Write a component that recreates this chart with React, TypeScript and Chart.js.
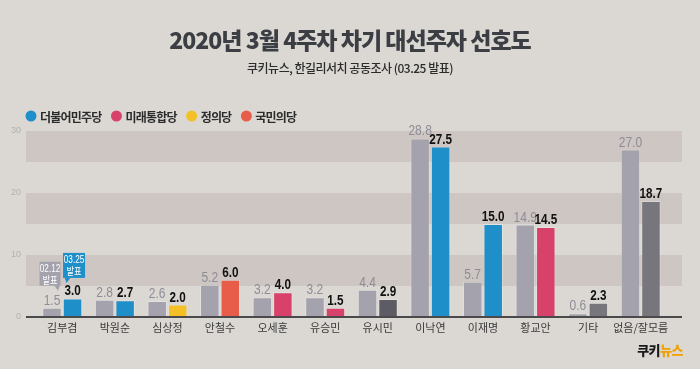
import React, { useEffect, useRef } from 'react';
import { Chart, registerables } from 'chart.js';
Chart.register(...registerables);

const categories = ['김부겸', '박원순', '심상정', '안철수', '오세훈', '유승민', '유시민', '이낙연', '이재명', '황교안', '기타', '없음/잘모름'];
const prevValues = [1.5, 2.8, 2.6, 5.2, 3.2, 3.2, 4.4, 28.8, 5.7, 14.9, 0.6, 27.0];
const currValues = [3.0, 2.7, 2.0, 6.0, 4.0, 1.5, 2.9, 27.5, 15.0, 14.5, 2.3, 18.7];
const yTicks = [0, 10, 20, 30];
const bandRanges = [[5, 10], [15, 20], [25, 30]];
const legendLabels = ['더불어민주당', '미래통합당', '정의당', '국민의당'];
const titleText = '2020년 3월 4주차 차기 대선주자 선호도';
const subtitleText = '쿠키뉴스, 한길리서치 공동조사 (03.25 발표)';
const prevCallout = ['02.12', '발표'];
const currCallout = ['03.25', '발표'];

const BLUE = '#1f8fca';
const PINK = '#d8426a';
const YELLOW = '#f4c026';
const ORANGE = '#e85d4a';
const DARK = '#5d5c64';
const MID = '#77767d';
const GREY = '#a4a2ad';
const BG = '#dbd8d4';
const BAND = '#cdc6c3';
const legendColors = [BLUE, PINK, YELLOW, ORANGE];
const currColors = [BLUE, BLUE, YELLOW, ORANGE, PINK, PINK, DARK, BLUE, BLUE, PINK, MID, MID];

const KR = '"Noto Sans CJK KR", sans-serif';
const LAT = '"Liberation Sans", "Noto Sans CJK KR", sans-serif';

function narrowText(ctx: CanvasRenderingContext2D, text: string, x: number, y: number, sx: number) {
  ctx.save();
  ctx.translate(x, y);
  ctx.scale(sx, 1);
  ctx.fillText(text, 0, 0);
  ctx.restore();
}

const decor = {
  id: 'decor',
  beforeDraw(chart: any) {
    const { ctx, chartArea, scales } = chart;
    const y = scales.y;
    ctx.save();
    ctx.fillStyle = BG;
    ctx.fillRect(0, 0, chart.width, chart.height);
    const L = chartArea.left - 10;
    const R = chartArea.right + 15;
    ctx.fillStyle = BAND;
    for (const [a, b] of bandRanges) {
      const y1 = y.getPixelForValue(b);
      const y2 = y.getPixelForValue(a);
      ctx.fillRect(L, y1, R - L, y2 - y1);
    }
    // title
    ctx.textAlign = 'center';
    ctx.textBaseline = 'alphabetic';
    ctx.fillStyle = '#3b3e43';
    ctx.font = `900 23px ${KR}`;
    (ctx as any).letterSpacing = '-1px';
    ctx.fillText(titleText, chart.width / 2, 49);
    ctx.fillStyle = '#2b2b2b';
    ctx.font = `500 12px ${KR}`;
    (ctx as any).letterSpacing = '-0.5px';
    ctx.fillText(subtitleText, chart.width / 2, 73);
    // legend
    ctx.textAlign = 'left';
    ctx.textBaseline = 'middle';
    ctx.font = `700 12px ${KR}`;
    (ctx as any).letterSpacing = '-0.8px';
    let x = 31;
    const ly = 116;
    legendLabels.forEach((lab, i) => {
      ctx.fillStyle = legendColors[i];
      ctx.beginPath();
      ctx.arc(x, ly, 5.5, 0, Math.PI * 2);
      ctx.fill();
      ctx.fillStyle = '#2b2b2b';
      ctx.fillText(lab, x + 9, ly + 1);
      x += 9 + ctx.measureText(lab).width + 15;
    });
    // logo
    ctx.textAlign = 'left';
    ctx.textBaseline = 'alphabetic';
    ctx.font = `900 13px ${KR}`;
    (ctx as any).letterSpacing = '-0.5px';
    const w1 = ctx.measureText('쿠키').width;
    const w2 = ctx.measureText('뉴스').width;
    const lx = 683 - w1 - w2;
    ctx.fillStyle = '#1a1a1a';
    ctx.fillText('쿠키', lx, 355);
    ctx.fillStyle = '#f0a000';
    ctx.fillText('뉴스', lx + w1, 355);
    ctx.restore();
  },
  afterDatasetsDraw(chart: any) {
    const { ctx, chartArea, scales } = chart;
    const y0 = scales.y.getPixelForValue(0);
    ctx.save();
    ctx.strokeStyle = '#4a4a4a';
    ctx.lineWidth = 2;
    ctx.beginPath();
    ctx.moveTo(chartArea.left - 10, y0);
    ctx.lineTo(chartArea.right + 15, y0);
    ctx.stroke();

    const m0 = chart.getDatasetMeta(0);
    const m1 = chart.getDatasetMeta(1);
    ctx.textAlign = 'center';
    ctx.textBaseline = 'alphabetic';
    ctx.font = `400 15px ${LAT}`;
    ctx.fillStyle = '#8e8c96';
    m0.data.forEach((bar: any, i: number) => {
      narrowText(ctx, prevValues[i].toFixed(1), bar.x, bar.y - 3, 0.8);
    });
    ctx.font = `700 15px ${LAT}`;
    ctx.fillStyle = '#111111';
    m1.data.forEach((bar: any, i: number) => {
      narrowText(ctx, currValues[i].toFixed(1), bar.x, bar.y - 3, 0.78);
    });

    // callouts
    const drawBox = (cx: number, bottom: number, w: number, h: number, color: string, lines: string[], tipX: number, tipDX: number) => {
      const left = cx - w / 2;
      const top = bottom - h;
      ctx.fillStyle = color;
      ctx.fillRect(left, top, w, h);
      ctx.beginPath();
      ctx.moveTo(tipX - 3, bottom - 0.5);
      ctx.lineTo(tipX + 3, bottom - 0.5);
      ctx.lineTo(tipX + tipDX, bottom + 5);
      ctx.closePath();
      ctx.fill();
      ctx.fillStyle = '#ffffff';
      ctx.textAlign = 'center';
      ctx.textBaseline = 'middle';
      ctx.font = `400 10.5px ${LAT}`;
      narrowText(ctx, lines[0], cx, top + 7, 0.78);
      ctx.font = `400 10.5px ${KR}`;
      narrowText(ctx, lines[1], cx, top + 18, 0.78);
    };
    const b0 = m0.data[0];
    const b1 = m1.data[0];
    drawBox(b0.x - 2, b0.y - 22, 21, 24, GREY, prevCallout, b0.x + 5, 1);
    drawBox(b1.x + 1.5, b1.y - 20.5, 22, 25, BLUE, currCallout, b1.x - 5, -1);
    ctx.restore();
  },
};

export default function App() {
  const ref = useRef<HTMLCanvasElement>(null);
  useEffect(() => {
    document.body.style.margin = '0';
    const chart = new Chart(ref.current as HTMLCanvasElement, {
      type: 'bar',
      data: {
        labels: categories,
        datasets: [
          {
            label: '02.12 발표',
            data: prevValues,
            backgroundColor: GREY,
            borderColor: 'rgba(255,255,255,0.25)',
            borderWidth: 1,
            categoryPercentage: 0.78,
            barPercentage: 0.95,
          },
          {
            label: '03.25 발표',
            data: currValues,
            backgroundColor: currColors,
            borderColor: 'rgba(255,255,255,0.25)',
            borderWidth: 1,
            categoryPercentage: 0.78,
            barPercentage: 0.95,
          },
        ],
      },
      options: {
        responsive: false,
        animation: false,
        layout: { padding: { top: 131, left: 8, right: 33, bottom: 32 } },
        plugins: { legend: { display: false }, title: { display: false }, tooltip: { enabled: false } },
        scales: {
          x: {
            grid: { display: false, drawTicks: false },
            border: { display: false },
            ticks: { color: '#3a3a3a', font: { family: KR, size: 11 }, padding: 4, maxRotation: 0, autoSkip: false },
            afterFit: (s: any) => { s.height = 20; },
          },
          y: {
            min: 0,
            max: 30,
            afterBuildTicks: (s: any) => { s.ticks = yTicks.map((v) => ({ value: v })); },
            grid: { display: false, drawTicks: false },
            border: { display: false },
            ticks: { color: '#b5b0ac', font: { family: LAT, size: 9 }, padding: 15 },
            afterFit: (s: any) => { s.width = 28; },
          },
        },
      },
      plugins: [decor],
    });
    return () => chart.destroy();
  }, []);
  return <canvas ref={ref} width={700} height={369} style={{ display: 'block' }} />;
}
